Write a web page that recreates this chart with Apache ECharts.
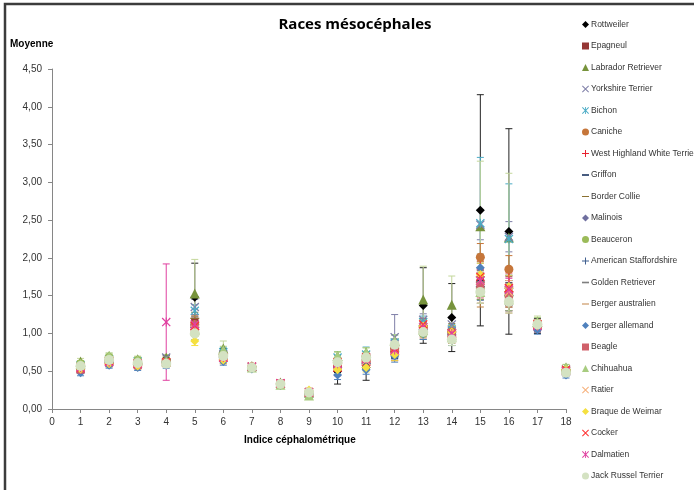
<!DOCTYPE html>
<html>
<head>
<meta charset="utf-8">
<script src="https://cdn.jsdelivr.net/npm/echarts@6/dist/echarts.min.js"></script>
<style>html,body{margin:0;padding:0;background:#fff}#c{width:694px;height:490px}</style>
</head>
<body>
<div id="c"></div>
<script>
const xValues = [1,2,3,4,5,6,7,8,9,10,11,12,13,14,15,16,17,18];
const yTicks = [0,0.5,1,1.5,2,2.5,3,3.5,4,4.5];
const breeds = ['Rottweiler','Epagneul','Labrador Retriever','Yorkshire Terrier','Bichon','Caniche','West Highland White Terrier','Griffon','Border Collie','Malinois','Beauceron','American Staffordshire','Golden Retriever','Berger australien','Berger allemand','Beagle','Chihuahua','Ratier','Braque de Weimar','Cocker','Dalmatien','Jack Russel Terrier'];

const rottweiler = [0.55,0.65,0.62,0.66,1.48,0.72,0.56,0.34,0.22,0.50,0.55,0.80,1.37,1.21,2.63,2.35,1.10,0.50];
const epagneul   = [0.55,0.62,0.60,0.62,1.15,0.68,0.55,0.34,0.22,0.60,0.65,0.80,1.10,1.00,1.72,1.60,1.12,0.50];
const labrador   = [0.63,0.70,0.66,0.68,1.53,0.80,0.57,0.35,0.22,0.70,0.75,0.90,1.45,1.38,2.42,2.27,1.15,0.55];
const yorkshire  = [0.56,0.64,0.60,0.68,1.35,0.72,0.55,0.33,0.20,0.62,0.68,0.95,1.18,1.12,2.44,2.28,1.10,0.50];
const bichon     = [0.58,0.66,0.63,0.62,1.30,0.75,0.56,0.33,0.22,0.68,0.72,0.88,1.15,1.05,2.46,2.25,1.12,0.52];
const caniche    = [0.57,0.63,0.60,0.60,1.12,0.70,0.56,0.33,0.22,0.55,0.62,0.78,1.08,1.02,2.01,1.85,1.10,0.50];
const westie     = [0.52,0.60,0.57,0.60,1.05,0.65,0.55,0.33,0.20,0.50,0.58,0.72,1.02,0.95,1.68,1.55,1.08,0.48];
const griffon    = [0.52,0.60,0.58,0.62,1.10,0.68,0.55,0.32,0.22,0.55,0.60,0.75,1.05,0.98,1.70,1.52,1.10,0.50];
const borderC    = [0.55,0.65,0.62,0.65,1.20,0.72,0.56,0.34,0.22,0.60,0.65,0.82,1.10,1.05,1.75,1.60,1.12,0.50];
const malinois   = [0.54,0.62,0.60,0.63,1.12,0.70,0.55,0.33,0.22,0.58,0.62,0.80,1.10,1.00,1.78,1.62,1.10,0.50];
const beauceron  = [0.60,0.68,0.64,0.62,1.00,0.72,0.55,0.32,0.18,0.65,0.70,0.85,1.00,0.92,1.60,1.50,1.12,0.52];
const amStaff    = [0.53,0.62,0.58,0.62,1.08,0.68,0.55,0.33,0.20,0.55,0.60,0.76,1.05,0.98,1.62,1.50,1.08,0.48];
const golden     = [0.55,0.63,0.60,0.63,1.12,0.70,0.56,0.33,0.22,0.58,0.63,0.80,1.08,1.00,1.68,1.55,1.10,0.50];
const bergerAus  = [0.56,0.64,0.60,0.64,1.15,0.70,0.56,0.34,0.22,0.60,0.65,0.80,1.10,1.02,1.65,1.55,1.12,0.52];
const bergerAll  = [0.48,0.58,0.55,0.58,1.00,0.63,0.53,0.31,0.20,0.45,0.52,0.70,1.00,0.92,1.87,1.62,1.05,0.45];
const beagle     = [0.52,0.62,0.58,0.62,1.08,0.68,0.55,0.34,0.23,0.60,0.66,0.78,1.05,0.98,1.62,1.50,1.12,0.50];
const chihuahua  = [0.60,0.70,0.65,0.63,1.05,0.78,0.55,0.32,0.18,0.70,0.75,0.90,1.05,0.95,1.55,1.45,1.15,0.55];
const ratier     = [0.55,0.64,0.60,0.62,1.05,0.68,0.56,0.33,0.22,0.58,0.64,0.80,1.08,1.00,1.70,1.55,1.12,0.50];
const braque     = [0.53,0.60,0.57,0.60,0.90,0.65,0.56,0.34,0.25,0.52,0.55,0.72,1.10,1.02,1.78,1.62,1.10,0.52];
const cocker     = [0.54,0.63,0.60,0.62,1.10,0.68,0.56,0.34,0.22,0.62,0.68,0.80,1.12,1.00,1.75,1.60,1.12,0.52];
const dalmatien  = [0.55,0.62,0.60,1.15,1.12,0.68,0.56,0.34,0.22,0.60,0.66,0.78,1.08,1.00,1.70,1.58,1.10,0.50];
const jackRussel = [0.57,0.65,0.61,0.60,1.00,0.70,0.55,0.33,0.22,0.62,0.68,0.85,1.02,0.92,1.55,1.42,1.12,0.48];

const errRottweiler = [0.05,0.05,0.05,0.05,0.45,0.08,0.04,0.03,0.03,0.17,0.17,0.12,0.50,0.45,1.53,1.36,0.10,0.05];
const errEpagneul   = [0.04,0.04,0.04,0.04,0.08,0.05,0.03,0.02,0.02,0.06,0.06,0.08,0.10,0.08,0.15,0.15,0.06,0.04];
const errLabrador   = [0.04,0.04,0.04,0.04,0.45,0.10,0.03,0.02,0.02,0.05,0.06,0.08,0.44,0.38,0.86,0.85,0.08,0.04];
const errYorkshire  = [0.04,0.04,0.04,0.04,0.10,0.05,0.03,0.02,0.02,0.06,0.06,0.30,0.08,0.08,0.20,0.20,0.06,0.04];
const errBichon     = [0.04,0.04,0.04,0.04,0.08,0.06,0.03,0.02,0.02,0.08,0.10,0.10,0.08,0.07,0.87,0.73,0.06,0.04];
const errCaniche    = [0.04,0.04,0.04,0.04,0.08,0.05,0.03,0.02,0.02,0.06,0.06,0.08,0.08,0.08,0.18,0.18,0.06,0.04];
const errWestie     = [0.04,0.04,0.04,0.04,0.08,0.05,0.03,0.02,0.02,0.06,0.06,0.08,0.08,0.08,0.28,0.25,0.06,0.04];
const errGriffon    = [0.04,0.04,0.04,0.04,0.08,0.05,0.03,0.02,0.02,0.06,0.06,0.08,0.08,0.08,0.15,0.15,0.06,0.04];
const errBorderC    = [0.04,0.04,0.04,0.04,0.08,0.05,0.03,0.02,0.02,0.06,0.06,0.08,0.08,0.08,0.30,0.25,0.06,0.04];
const errMalinois   = [0.04,0.04,0.04,0.04,0.08,0.05,0.03,0.02,0.02,0.06,0.06,0.08,0.08,0.08,0.15,0.15,0.06,0.04];
const errBeauceron  = [0.04,0.04,0.04,0.04,0.08,0.05,0.03,0.02,0.02,0.06,0.06,0.08,0.08,0.08,0.15,0.15,0.06,0.04];
const errAmStaff    = [0.04,0.04,0.04,0.04,0.08,0.05,0.03,0.02,0.02,0.06,0.06,0.08,0.08,0.08,0.18,0.20,0.06,0.04];
const errGolden     = [0.04,0.04,0.04,0.04,0.08,0.05,0.03,0.02,0.02,0.06,0.06,0.08,0.08,0.08,0.15,0.15,0.06,0.04];
const errBergerAus  = [0.04,0.04,0.04,0.04,0.08,0.05,0.03,0.02,0.02,0.06,0.06,0.08,0.08,0.08,0.30,0.28,0.06,0.04];
const errBergerAll  = [0.04,0.04,0.04,0.04,0.08,0.05,0.03,0.02,0.02,0.06,0.06,0.08,0.08,0.08,0.15,0.15,0.06,0.04];
const errBeagle     = [0.04,0.04,0.04,0.04,0.08,0.05,0.03,0.02,0.02,0.06,0.06,0.08,0.08,0.08,0.15,0.15,0.06,0.04];
const errChihuahua  = [0.04,0.04,0.04,0.04,0.08,0.05,0.03,0.02,0.02,0.06,0.06,0.08,0.08,0.08,0.15,0.15,0.06,0.04];
const errRatier     = [0.04,0.04,0.04,0.04,0.08,0.05,0.03,0.02,0.02,0.06,0.06,0.08,0.08,0.08,0.15,0.15,0.06,0.04];
const errBraque     = [0.04,0.04,0.04,0.04,0.06,0.05,0.03,0.02,0.02,0.06,0.06,0.08,0.08,0.08,0.15,0.15,0.06,0.04];
const errCocker     = [0.04,0.04,0.04,0.04,0.08,0.05,0.03,0.02,0.02,0.06,0.06,0.08,0.08,0.08,0.25,0.22,0.06,0.04];
const errDalmatien  = [0.04,0.04,0.04,0.77,0.08,0.05,0.03,0.02,0.02,0.06,0.06,0.08,0.08,0.08,0.15,0.15,0.06,0.04];
const errJackRussel = [0.04,0.04,0.04,0.04,0.08,0.05,0.03,0.02,0.02,0.06,0.06,0.08,0.08,0.08,0.15,0.15,0.06,0.04];

const means = [rottweiler,epagneul,labrador,yorkshire,bichon,caniche,westie,griffon,borderC,malinois,beauceron,amStaff,golden,bergerAus,bergerAll,beagle,chihuahua,ratier,braque,cocker,dalmatien,jackRussel];
const errs = [errRottweiler,errEpagneul,errLabrador,errYorkshire,errBichon,errCaniche,errWestie,errGriffon,errBorderC,errMalinois,errBeauceron,errAmStaff,errGolden,errBergerAus,errBergerAll,errBeagle,errChihuahua,errRatier,errBraque,errCocker,errDalmatien,errJackRussel];

const X = 'path://M0,1L1,0L5,4L9,0L10,1L6,5L10,9L9,10L5,6L1,10L0,9L4,5Z';
const STAR = 'path://M0,1L1,0L4.4,3.4L4.4,0L5.6,0L5.6,3.4L9,0L10,1L6.4,4.6L6.4,5.4L10,9L9,10L5.6,6.6L5.6,10L4.4,10L4.4,6.6L1,10L0,9L3.6,5.4L3.6,4.6Z';
const PLUS = 'path://M4.3,0H5.7V4.3H10V5.7H5.7V10H4.3V5.7H0V4.3H4.3Z';
const DASH = 'path://M2,4.3H8V5.7H2Z';
const LDASH = 'path://M0,4.3H10V5.7H0Z';
// [marker colour, symbol, size, error-bar colour, error-bar draw rank]
const styles = [
  ['#000000','diamond',9,'#222222',0],
  ['#953735','rect',7,'#953735',1],
  ['#77933C','triangle',10,'#C4D79B',5],
  ['#7F7FA8',X,9,'#7F7FA8',3],
  ['#4BACC6',STAR,9,'#4BACC6',4],
  ['#C6763A','circle',9,'#C6763A',6],
  ['#E8202E',PLUS,9,'#E03040',7],
  ['#1F3864',DASH,8,'#1F3864',8],
  ['#8A7030',LDASH,9,'#8A7030',9],
  ['#6F6F9F','diamond',8,'#6F6F9F',10],
  ['#9BBB59','circle',9,'#9BBB59',11],
  ['#3F5F8F',PLUS,9,'#3F5F8F',12],
  ['#7F7F7F',DASH,8,'#7F7F7F',13],
  ['#C08040',LDASH,9,'#C08040',14],
  ['#4F81BD','diamond',9,'#4F81BD',15],
  ['#D0606A','rect',8,'#D0606A',16],
  ['#A8CC80','triangle',10,'#A8CC80',17],
  ['#F7B07A',X,9,'#F7B07A',18],
  ['#F5E040','diamond',9,'#F5E040',19],
  ['#FF3030',X,9,'#FF3030',20],
  ['#E040A0',STAR,9,'#E040A0',21],
  ['#D4E2C2','circle',10,'#C9DAB5',22]
];

const errData = [];
means.forEach((arr, s) => {
  arr.forEach((v, i) => {
    if (v == null) return;
    errData.push([xValues[i], v - errs[s][i], v + errs[s][i], s]);
  });
});
errData.sort((a, b) => styles[a[3]][4] - styles[b[3]][4]);

const series = [{
  type: 'custom',
  silent: true,
  z: 1,
  data: errData,
  encode: { x: 0, y: [1, 2] },
  renderItem: function (params, api) {
    const x = api.value(0);
    const lo = api.coord([x, api.value(1)]);
    const hi = api.coord([x, api.value(2)]);
    const col = styles[api.value(3)][3];
    const w = 3.5;
    return {
      type: 'group',
      children: [
        { type: 'line', shape: { x1: lo[0], y1: lo[1], x2: hi[0], y2: hi[1] }, style: { stroke: col, lineWidth: 1 } },
        { type: 'line', shape: { x1: lo[0] - w, y1: lo[1], x2: lo[0] + w, y2: lo[1] }, style: { stroke: col, lineWidth: 1 } },
        { type: 'line', shape: { x1: hi[0] - w, y1: hi[1], x2: hi[0] + w, y2: hi[1] }, style: { stroke: col, lineWidth: 1 } }
      ]
    };
  }
}];
breeds.forEach((name, s) => {
  series.push({
    name: name,
    type: 'scatter',
    z: 2,
    symbol: styles[s][1],
    symbolSize: styles[s][2],
    symbolKeepAspect: true,
    itemStyle: { color: styles[s][0], opacity: 1 },
    emphasis: { disabled: true },
    data: means[s].map((v, i) => [xValues[i], v])
  });
});

const chart = echarts.init(document.getElementById('c'), null, { renderer: 'canvas' });
chart.setOption({
  animation: false,
  backgroundColor: '#ffffff',
  title: {
    text: 'Races mésocéphales',
    left: 350, top: 12, textAlign: 'center',
    textStyle: { fontFamily: 'Open Sans', fontSize: 15, fontWeight: 'bold', color: '#000' }
  },
  graphic: [
    { type: 'rect', shape: { x: 5, y: 4, width: 800, height: 600 }, style: { fill: 'none', stroke: '#3c3c3c', lineWidth: 2.5 }, silent: true },
    { type: 'text', left: 10, top: 39, style: { text: 'Moyenne', font: 'bold 10px "Liberation Sans", sans-serif', fill: '#000' } },
    { type: 'text', left: 244, top: 435, style: { text: 'Indice céphalométrique', font: 'bold 10px "Liberation Sans", sans-serif', fill: '#000' } }
  ],
  legend: {
    orient: 'vertical',
    left: 582, top: 19, padding: 0,
    itemWidth: 7, itemHeight: 7, itemGap: 10.5,
    data: breeds,
    textStyle: { fontSize: 8.5, lineHeight: 11, color: '#333', fontFamily: 'Liberation Sans', padding: [0, 0, 0, -3] }
  },
  grid: { left: 52, right: 128, top: 69, bottom: 81 },
  xAxis: {
    type: 'value', min: 0, max: 18, interval: 1,
    axisLine: { lineStyle: { color: '#868686' } },
    axisTick: { lineStyle: { color: '#868686' }, length: 4 },
    axisLabel: { color: '#333', fontSize: 10, fontFamily: 'Liberation Sans', margin: 8 },
    splitLine: { show: false }
  },
  yAxis: {
    type: 'value', min: yTicks[0], max: yTicks[yTicks.length - 1], interval: 0.5,
    axisLine: { show: true, lineStyle: { color: '#868686' } },
    axisTick: { show: true, lineStyle: { color: '#868686' }, length: 4 },
    axisLabel: { color: '#333', fontSize: 10, fontFamily: 'Liberation Sans', margin: 10,
      formatter: v => v.toFixed(2).replace('.', ',') },
    splitLine: { show: false }
  },
  series: series
});
</script>
</body>
</html>
